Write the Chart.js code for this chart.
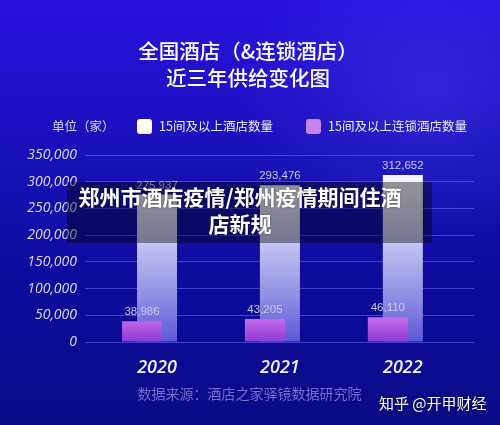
<!DOCTYPE html>
<html>
<head>
<meta charset="utf-8">
<script src="https://cdn.jsdelivr.net/npm/chart.js@4.4.1/dist/chart.umd.min.js"></script>
<style>
  html, body { margin: 0; padding: 0; }
  body {
    width: 500px; height: 425px; overflow: hidden; position: relative;
    background:
      radial-gradient(ellipse 190px 150px at 430px 90px, rgba(90,90,255,0.28), rgba(90,90,255,0) 100%),
      linear-gradient(180deg, #2a12dc 0%, #1f10c8 22%, #1410b0 45%, #0c0b9a 70%, #0a0a86 100%);
    font-family: "Noto Sans CJK SC", "Noto Sans", sans-serif;
  }
  #wrap { position: absolute; left: 0; top: 0; width: 500px; height: 425px; }
  .abs { position: absolute; white-space: nowrap; }
  .title { left: 0; width: 496px; text-align: center; color: #ffffff; font-size: 20.5px; font-weight: 500; height: 26px; line-height: 26px; }
  .leg { color: #eeeeff; font-size: 12.5px; height: 16px; line-height: 16px; top: 118px; }
  .sw { width: 15px; height: 15px; border-radius: 3px; top: 119px; }
  #banner { left: 67px; top: 182px; width: 365px; height: 61px; background: rgba(0,0,0,0.40); }
  #bannerText { left: 0; width: 480px; top: 183px; text-align: center; color: #ffffff; font-size: 21px; font-weight: 700; line-height: 27px; text-shadow: 0 0 2px rgba(0,0,0,0.5); }
  #source { left: 0; width: 499px; top: 384px; text-align: center; color: #726fce; font-size: 14px; line-height: 18px; }
  #mark { left: 379px; top: 393px; color: #ffffff; font-size: 15px; line-height: 20px; text-shadow: 0 0 3px rgba(0,0,0,0.6); }
</style>
</head>
<body>
<div id="wrap"><canvas id="chart" width="500" height="425"></canvas></div>

<div class="abs title" style="top:37px">全国酒店（&amp;连锁酒店）</div>
<div class="abs title" style="top:64px">近三年供给变化图</div>

<div class="abs leg" style="left:52px;color:#dcdcf6">单位（家）</div>
<div class="abs sw" style="left:137px;background:#ffffff"></div>
<div class="abs leg" style="left:159px">15间及以上酒店数量</div>
<div class="abs sw" style="left:306px;background:#c683ec"></div>
<div class="abs leg" style="left:328px">15间及以上连锁酒店数量</div>

<div class="abs" id="source">数据来源：酒店之家驿镜数据研究院</div>
<div class="abs" id="mark">知乎 @开甲财经</div>

<div class="abs" id="banner"></div>
<div class="abs" id="bannerText">郑州市酒店疫情/郑州疫情期间住酒<br>店新规</div>

<script>
// ---- data ----
const years = ['2020', '2021', '2022'];
const hotels15 = [275937, 293476, 312652];        // 15间及以上酒店数量
const chainHotels15 = [38986, 43205, 46110];      // 15间及以上连锁酒店数量
const yTickValues = [0, 50000, 100000, 150000, 200000, 250000, 300000, 350000];

const fmt = v => Number(v).toLocaleString('en-US');

function whiteGrad(ctx) {
  const chart = ctx.chart, a = chart.chartArea;
  if (!a) return '#ffffff';
  const g = chart.ctx.createLinearGradient(0, a.top, 0, a.bottom);
  g.addColorStop(0, '#ffffff');
  g.addColorStop(0.22, '#ececfc');
  g.addColorStop(0.48, '#c2c2f2');
  g.addColorStop(0.75, '#9090e4');
  g.addColorStop(1, '#5b58d8');
  return g;
}
function purpleGrad(ctx) {
  const chart = ctx.chart, a = chart.chartArea;
  if (!a) return '#b060e0';
  const top = chart.scales.y.getPixelForValue(50000);
  const g = chart.ctx.createLinearGradient(0, top, 0, a.bottom);
  g.addColorStop(0, '#cc70ec');
  g.addColorStop(1, '#8c3ad6');
  return g;
}

const valueLabels = {
  id: 'valueLabels',
  afterDatasetsDraw(chart) {
    const c = chart.ctx;
    c.save();
    c.font = '11.5px "Liberation Sans", Arial, sans-serif';
    c.fillStyle = '#c9c9e6';
    c.textAlign = 'center';
    c.textBaseline = 'alphabetic';
    chart.data.datasets.forEach((ds, di) => {
      const meta = chart.getDatasetMeta(di);
      meta.data.forEach((el, i) => {
        c.fillText(fmt(ds.data[i].y), el.x, el.y - 6);
      });
    });
    c.restore();
  }
};

const xNum = years.map(Number);

new Chart(document.getElementById('chart'), {
  type: 'bar',
  data: {
    datasets: [
      {
        label: '15间及以上连锁酒店数量',
        data: xNum.map((x, i) => ({ x, y: chainHotels15[i] })),
        backgroundColor: purpleGrad,
        borderWidth: 0
      },
      {
        label: '15间及以上酒店数量',
        data: xNum.map((x, i) => ({ x, y: hotels15[i] })),
        backgroundColor: whiteGrad,
        borderWidth: 0
      }
    ]
  },
  options: {
    responsive: false,
    animation: false,
    devicePixelRatio: 1,
    categoryPercentage: 0.244,
    barPercentage: 2.67,
    layout: { padding: { top: 155, right: 26, bottom: 0, left: 0 } },
    plugins: { legend: { display: false }, tooltip: { enabled: false } },
    scales: {
      x: {
        type: 'linear',
        offset: false,
        min: 2019.475,
        max: 2022.64,
        grid: { display: false },
        border: { display: false },
        afterBuildTicks: s => { s.ticks = xNum.map(v => ({ value: v })); },
        afterFit: s => { s.height = 83; },
        ticks: {
          labelOffset: 7.5,
          padding: 7,
          color: '#f4f4ff',
          font: { family: '"Open Sans", sans-serif', size: 18, style: 'italic', weight: '600' },
          callback: (v) => years[xNum.indexOf(v)] ?? ''
        }
      },
      y: {
        min: 0,
        max: 350000,
        afterBuildTicks: s => { s.ticks = yTickValues.map(v => ({ value: v })); },
        afterFit: s => { s.width = 85; },
        grid: { color: 'rgba(110,110,255,0.55)', lineWidth: 1, drawTicks: false },
        border: { display: false },
        ticks: {
          padding: 8,
          color: '#dcdcf8',
          font: { family: '"Open Sans", sans-serif', size: 14, style: 'italic' },
          callback: v => fmt(v)
        }
      }
    }
  },
  plugins: [valueLabels]
});
</script>
</body>
</html>
